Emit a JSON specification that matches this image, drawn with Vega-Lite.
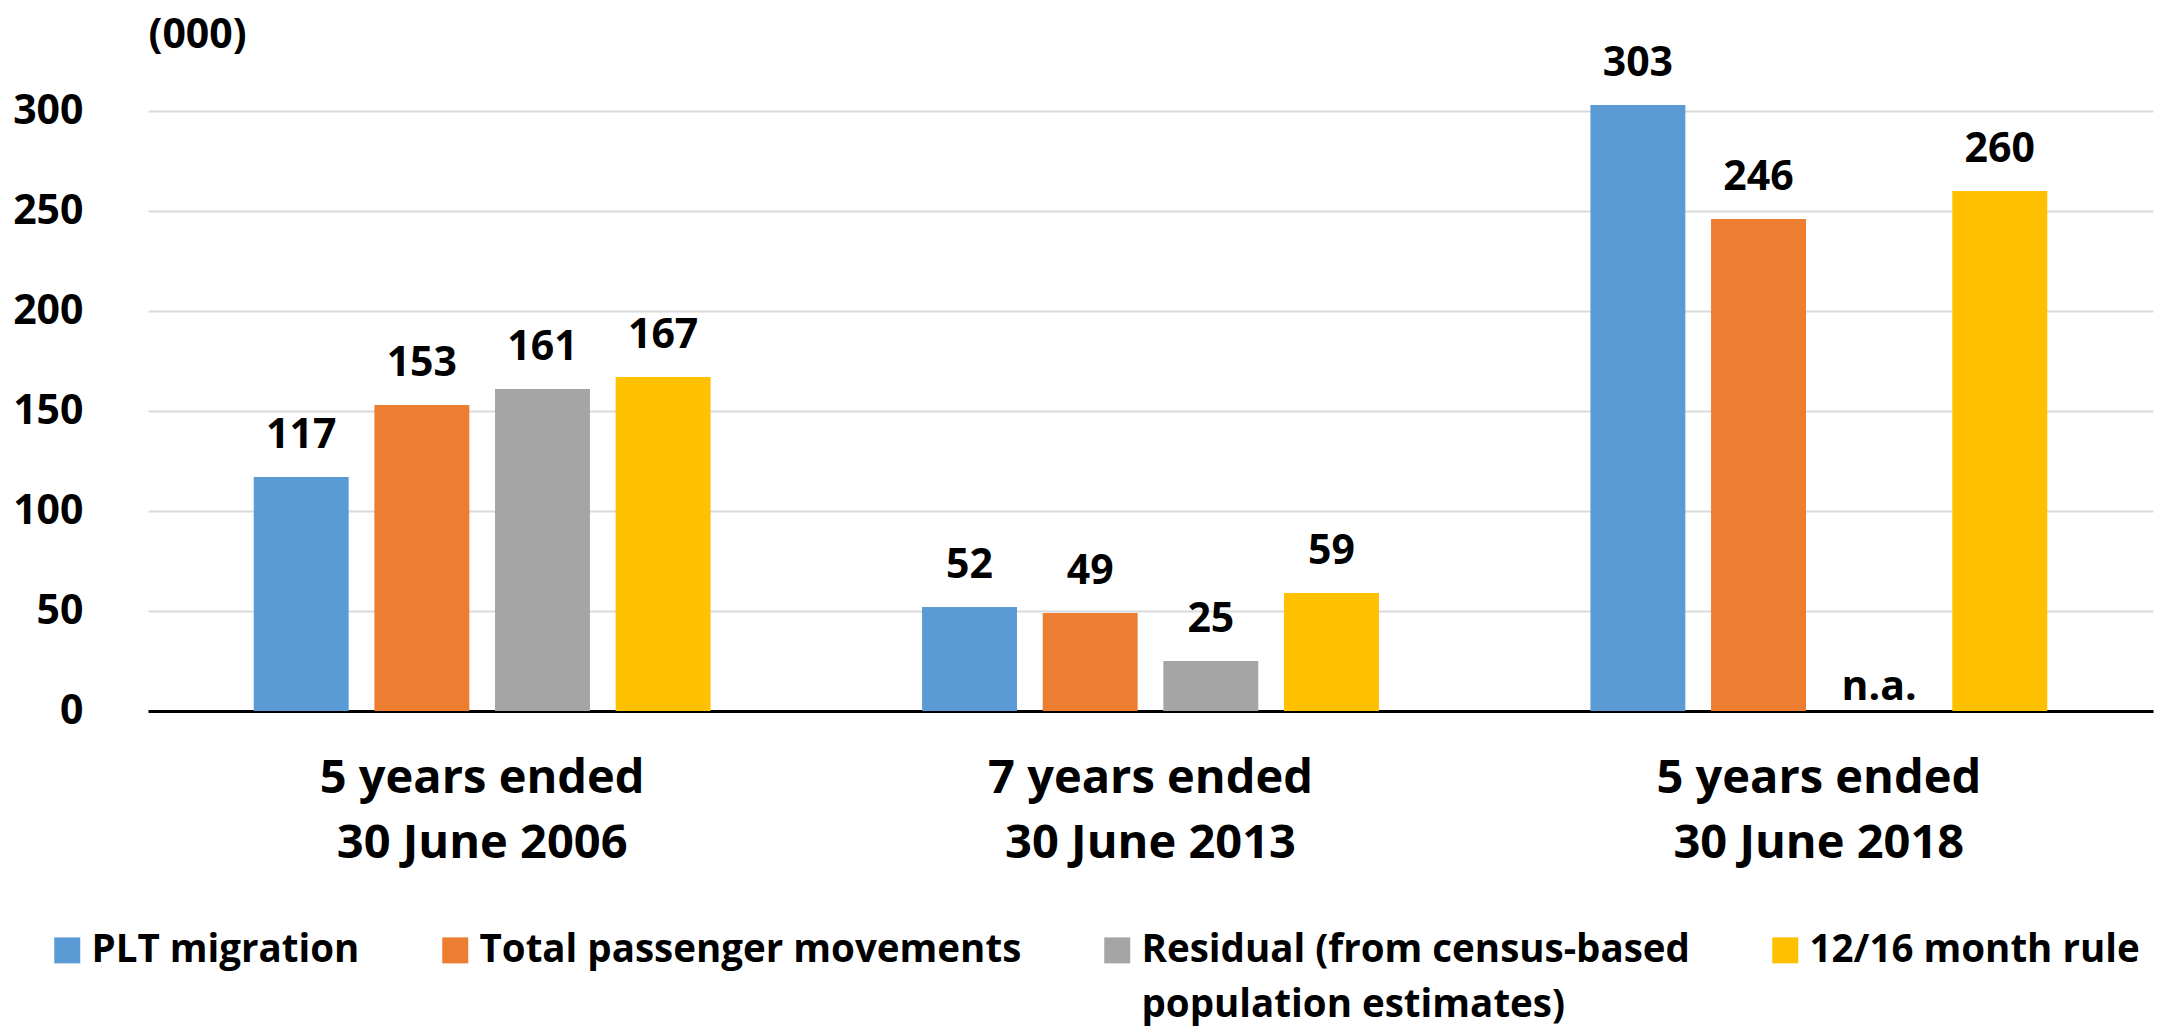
{
  "$schema": "https://vega.github.io/schema/vega-lite/v6.json",
  "autosize": "none",
  "width": 2005,
  "height": 600,
  "padding": {"left": 148, "top": 111, "right": 9, "bottom": 317},
  "background": "white",
  "config": {
    "view": {"stroke": null},
    "font": "Open Sans",
    "text": {"font": "Open Sans"}
  },
  "data": {
    "values": [
      {"period": "5 years ended 30 June 2006", "series": "PLT migration", "value": 117},
      {"period": "5 years ended 30 June 2006", "series": "Total passenger movements", "value": 153},
      {"period": "5 years ended 30 June 2006", "series": "Residual (from census-based population estimates)", "value": 161},
      {"period": "5 years ended 30 June 2006", "series": "12/16 month rule", "value": 167},
      {"period": "7 years ended 30 June 2013", "series": "PLT migration", "value": 52},
      {"period": "7 years ended 30 June 2013", "series": "Total passenger movements", "value": 49},
      {"period": "7 years ended 30 June 2013", "series": "Residual (from census-based population estimates)", "value": 25},
      {"period": "7 years ended 30 June 2013", "series": "12/16 month rule", "value": 59},
      {"period": "5 years ended 30 June 2018", "series": "PLT migration", "value": 303},
      {"period": "5 years ended 30 June 2018", "series": "Total passenger movements", "value": 246},
      {"period": "5 years ended 30 June 2018", "series": "Residual (from census-based population estimates)", "value": null},
      {"period": "5 years ended 30 June 2018", "series": "12/16 month rule", "value": 260}
    ]
  },
  "encoding": {
    "x": {
      "field": "period", "type": "nominal", "sort": null,
      "scale": {"paddingInner": 0.278, "paddingOuter": 0.139},
      "axis": {
        "title": null, "ticks": false, "domainColor": "#000000", "domainWidth": 3,
        "labelAngle": 0, "labelFontSize": 47, "labelFontWeight": "bold", "labelColor": "#000000",
        "labelPadding": 44, "labelLineHeight": 65, "labelLimit": 0,
        "labelExpr": "[slice(datum.label, 0, 13), slice(datum.label, 14)]"
      }
    },
    "xOffset": {
      "field": "series", "type": "nominal", "sort": null,
      "scale": {"paddingInner": 0.213, "paddingOuter": 0.1065}
    }
  },
  "layer": [
    {
      "mark": {"type": "bar"},
      "encoding": {
        "y": {
          "field": "value", "type": "quantitative",
          "scale": {"domain": [0, 300], "nice": false},
          "axis": {
            "title": "(000)", "titleAngle": 0, "titleAlign": "left", "titleBaseline": "middle",
            "titleX": 0, "titleY": -76, "titleFontSize": 41, "titleFontWeight": "bold", "titleColor": "#000000",
            "values": [0, 50, 100, 150, 200, 250, 300],
            "domain": false, "ticks": false, "labelPadding": 65,
            "labelFontSize": 41, "labelFontWeight": "bold", "labelColor": "#000000",
            "gridColor": "#d9d9d9", "gridWidth": 2
          }
        },
        "color": {
          "field": "series", "type": "nominal",
          "scale": {
            "domain": ["PLT migration", "Total passenger movements", "Residual (from census-based population estimates)", "12/16 month rule"],
            "range": ["#5B9BD5", "#ED7D31", "#A5A5A5", "#FFC000"]
          },
          "legend": {
            "title": null, "orient": "none", "direction": "horizontal", "columns": 4,
            "legendX": -100, "legendY": 820, "padding": 0, "columnPadding": 76, "rowPadding": 0,
            "symbolType": "square", "symbolSize": 676, "symbolStrokeWidth": 0, "symbolOpacity": 1,
            "labelFontSize": 38.5, "labelFontWeight": "bold", "labelColor": "#000000",
            "labelOffset": 5, "labelLimit": 0, "labelBaseline": "middle",
            "labelExpr": "datum.label == 'Residual (from census-based population estimates)' ? ['Residual (from census-based', 'population estimates)'] : [datum.label, '']",
            "encode": {
              "labels": {
                "update": {
                  "lineHeight": {"value": 55}
                }
              }
            }
          }
        }
      }
    },
    {
      "mark": {"type": "text", "fontSize": 41, "fontWeight": "bold", "color": "#000000", "baseline": "alphabetic", "dy": -29},
      "encoding": {
        "y": {"field": "value", "type": "quantitative"},
        "text": {"field": "value", "type": "quantitative"}
      }
    },
    {
      "transform": [{"filter": "datum.value === null"}],
      "mark": {"type": "text", "fontSize": 41, "fontWeight": "bold", "color": "#000000", "baseline": "alphabetic", "dy": -11},
      "encoding": {
        "y": {"datum": 0, "type": "quantitative"},
        "text": {"value": "n.a."}
      }
    }
  ]
}
